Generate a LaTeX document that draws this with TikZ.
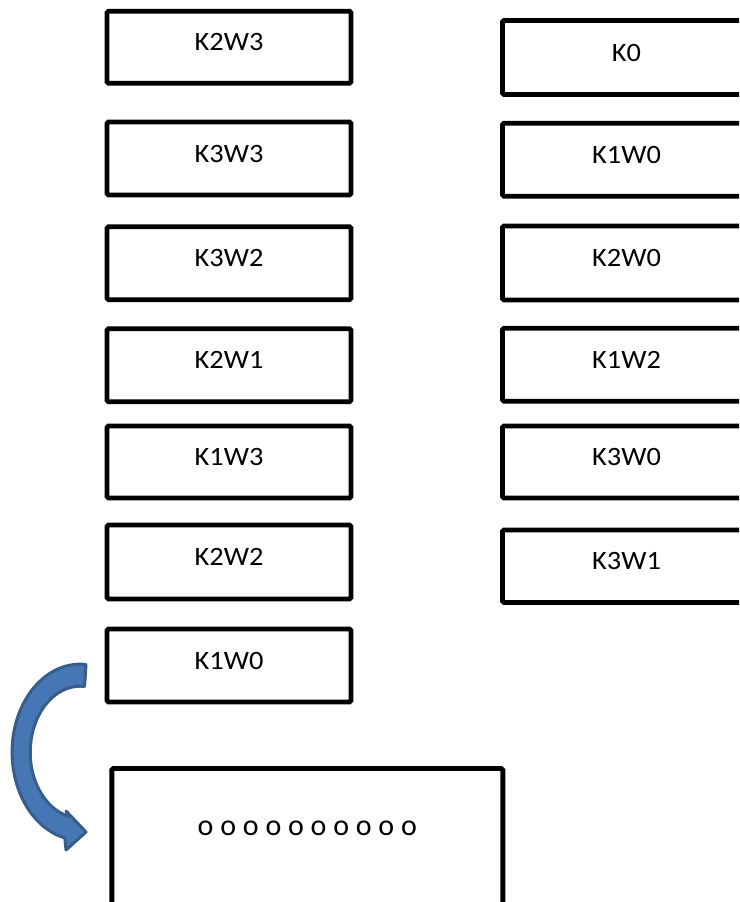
\documentclass[tikz,border=0pt]{standalone}
\usepackage{fontspec}
\setmainfont{Carlito}
\newfontfamily\boxfont[FakeStretch=1.07]{Carlito}
\definecolor{arrowfill}{HTML}{4677B4}
\definecolor{arrowline}{HTML}{385D8A}
\begin{document}
\begin{tikzpicture}[x=1pt,y=1pt,
  kbox/.style={draw, line width=4.8pt, rounded corners=1.5pt, inner sep=0pt,
    font=\boxfont\fontsize{26.5}{30}\selectfont, text height=17pt, text depth=10pt,
    minimum height=73pt},
  lbox/.style={kbox, minimum width=244pt},
  rbox/.style={kbox, minimum width=248pt},
  bigbox/.style={draw, line width=4.8pt, rounded corners=1.5pt, inner sep=0pt,
    minimum width=391pt, minimum height=172pt},
  dotstext/.style={font=\fontsize{30}{34}\selectfont, inner sep=0pt},
  curvedarrow/.style={fill=arrowfill, draw=arrowline, line width=3pt, line join=round}
]
\useasboundingbox (0,0) rectangle (739,-902);
\clip (0,0) rectangle (739,-902);
% left column
\node[lbox, minimum height=72pt] (l1) at (229,-47.25) {K2W3};
\node[lbox] (l2) at (229,-158.5) {K3W3};
\node[lbox] (l3) at (229,-263.25) {K3W2};
\node[lbox] (l4) at (229,-365.25) {K2W1};
\node[lbox, minimum height=72pt] (l5) at (229,-462) {K1W3};
\node[lbox, minimum height=74pt] (l6) at (229,-562) {K2W2};
\node[lbox] (l7) at (229,-665.5) {K1W0};
% right column
\node[rbox, minimum height=74pt] (r1) at (626.5,-57.5) {K0};
\node[rbox] (r2) at (626.5,-159.75) {K1W0};
\node[rbox, minimum height=74pt] (r3) at (626.5,-263) {K2W0};
\node[rbox] (r4) at (626.5,-364.75) {K1W2};
\node[rbox, minimum height=72pt] (r5) at (626.5,-462) {K3W0};
\node[rbox, minimum height=72.5pt] (r6) at (626.5,-566.25) {K3W1};
% bottom box
\node[bigbox] (big) at (307.35,-854.5) {};
\node[dotstext] (dots) at (307.35,-828) {o o o o o o o o o o};
% curved block arrow
\path[curvedarrow]
  (86,-664.5) arc[start angle=85, end angle=257, x radius=68pt, y radius=88pt]
  -- (66,-850) -- (86,-832) -- (66,-811)
  -- (69,-816.5) arc[start angle=257, end angle=85, x radius=50pt, y radius=66pt]
  -- cycle;
\end{tikzpicture}
\end{document}
